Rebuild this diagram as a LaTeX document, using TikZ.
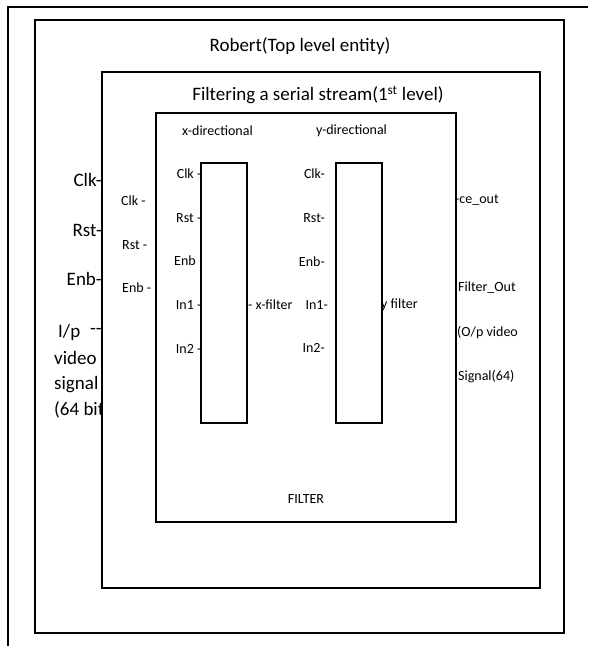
\documentclass[tikz,border=0pt]{standalone}
\usepackage{fontspec}
\setmainfont{Carlito}
\tikzset{
  boxline/.style={draw=black, line width=1.3pt},
  bigtxt/.style={font=\fontsize{19}{22}\selectfont, inner sep=0pt},
  smalltxt/.style={font=\fontsize{14}{17}\selectfont, inner sep=0pt},
}
\begin{document}
\begin{tikzpicture}[x=1pt, y=-1pt]
\useasboundingbox (0,0) rectangle (589,646);
% outer table frame (top and left only)
\coordinate (frameTR) at (588,7);
\coordinate (frameTL) at (8,7);
\coordinate (frameBL) at (8,646);
\draw[line width=1.3pt] (frameTR) -- (frameTL) -- (frameBL);
% Robert box
\draw[boxline, fill=white] (35,20) rectangle (564,633);
\node[bigtxt] (robert) at (300,46) {Robert(Top level entity)};
% left labels of top level
\node[bigtxt, anchor=east] (tclk) at (102,180) {Clk-};
\node[bigtxt, anchor=east] (trst) at (102,230) {Rst-};
\node[bigtxt, anchor=east] (tenb) at (102,279) {Enb-};
\node[bigtxt, anchor=west] (tip) at (58,332) {I/p};
\node[bigtxt, anchor=east] (tipdash) at (102,331) {-{}-};
\node[bigtxt, anchor=west] (tvideo) at (54,358) {video};
\node[bigtxt, anchor=west] (tsignal) at (54,385) {signal};
\node[bigtxt, anchor=west] (tbits) at (54,410) {(64 bits};
% Filtering box
\draw[boxline, fill=white] (102,72) rectangle (540,588);
\node[bigtxt] (filtering) at (318,95) {Filtering a serial stream(1\textsuperscript{st} level)};
\node[smalltxt, anchor=west] (fclk) at (121,201) {Clk -};
\node[smalltxt, anchor=west] (frst) at (122,245) {Rst -};
\node[smalltxt, anchor=west] (fenb) at (122,288) {Enb -};
% FILTER box
\draw[boxline, fill=white] (156,113) rectangle (456,522);
\node[smalltxt] (xdir) at (217.5,131) {x-directional};
\node[smalltxt] (ydir) at (351.5,131) {y-directional};
\node[smalltxt] (filter) at (306,499) {FILTER};
% x filter rectangle
\draw[boxline] (201,163) rectangle (247,423);
\node[smalltxt, anchor=east] (xclk) at (201.5,174) {Clk -};
\node[smalltxt, anchor=east] (xrst) at (201.5,218) {Rst -};
\node[smalltxt, anchor=west] (xenb) at (174,261) {Enb};
\node[smalltxt, anchor=east] (xin1) at (201.5,305) {In1 -};
\node[smalltxt, anchor=east] (xin2) at (201.5,349) {In2 -};
\node[smalltxt, anchor=west] (xout) at (248,305) {- x-filter};
% y filter rectangle
\draw[boxline] (336,163) rectangle (382,423);
\node[smalltxt, anchor=east] (yclk) at (325,174) {Clk-};
\node[smalltxt, anchor=east] (yrst) at (325,218) {Rst-};
\node[smalltxt, anchor=east] (yenb) at (325,262) {Enb-};
\node[smalltxt, anchor=east] (yin1) at (328,305) {In1-};
\node[smalltxt, anchor=east] (yin2) at (325,348) {In2-};
\node[smalltxt, anchor=west] (yout) at (381,305) {y filter};
% outputs
\node[smalltxt, anchor=west] (ceout) at (455,200) {-ce\_out};
\node[smalltxt, anchor=west] (fout) at (458,288) {Filter\_Out};
\node[smalltxt, anchor=west] (opv) at (457,333) {(O/p video};
\node[smalltxt, anchor=west] (sig) at (458,377) {Signal(64)};
\end{tikzpicture}
\end{document}
